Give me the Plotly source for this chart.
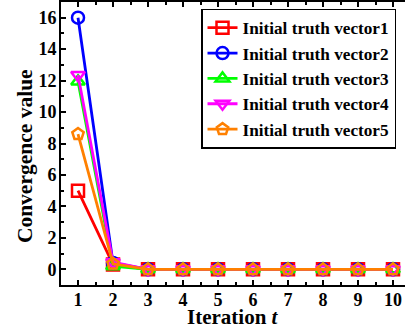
import plotly.graph_objects as go

iterations = [1, 2, 3, 4, 5, 6, 7, 8, 9, 10]
vector1 = [5.0, 0.30, 0, 0, 0, 0, 0, 0, 0, 0]
vector2 = [16.0, 0.40, 0, 0, 0, 0, 0, 0, 0, 0]
vector3 = [11.95, 0.20, 0, 0, 0, 0, 0, 0, 0, 0]
vector4 = [12.35, 0.45, 0, 0, 0, 0, 0, 0, 0, 0]
vector5 = [8.6, 0.35, 0, 0, 0, 0, 0, 0, 0, 0]

names = ["Initial truth vector1", "Initial truth vector2", "Initial truth vector3",
         "Initial truth vector4", "Initial truth vector5"]
series = [vector1, vector2, vector3, vector4, vector5]
colors = ["#FF0000", "#0000FF", "#00FF00", "#FF00FF", "#FF8000"]
symbols = ["square-open", "circle-open", "triangle-up-open", "triangle-down-open", "pentagon-open"]

FONT = "Liberation Serif, Times New Roman, serif"

fig = go.Figure()
for name, vals, col, sym in zip(names, series, colors, symbols):
    fig.add_trace(go.Scatter(
        x=iterations, y=vals, name=name, mode="lines+markers",
        line=dict(color=col, width=2.8),
        marker=dict(symbol=sym, size=12, color=col, line=dict(width=2.5, color=col)),
    ))

fig.update_layout(
    width=405, height=332,
    margin=dict(l=61, r=0, t=0, b=47),
    paper_bgcolor="white", plot_bgcolor="white",
    font=dict(family=FONT, color="black", size=17, weight="bold"),
    showlegend=True,
    legend=dict(
        x=0.407, y=0.977, xanchor="left", yanchor="top",
        bgcolor="white", bordercolor="black", borderwidth=1.5,
        font=dict(family=FONT, size=17.2, color="black", weight="bold"),
        tracegroupgap=0,
    ),
    annotations=[
        dict(
            text="Convergence value", textangle=-90,
            xref="paper", yref="paper", x=-0.105, y=0.455,
            xanchor="center", yanchor="middle", showarrow=False,
            font=dict(family=FONT, size=21.5, color="black", weight="bold"),
        ),
        dict(
            text="Iteration <i>t</i>",
            xref="paper", yref="paper", x=0.5, y=-0.112,
            xanchor="center", yanchor="middle", showarrow=False,
            font=dict(family=FONT, size=21, color="black", weight="bold"),
        ),
    ],
)

fig.update_xaxes(
    range=[0.514, 10.343],
    tickmode="array", tickvals=iterations, ticktext=[str(v) for v in iterations],
    ticks="inside", ticklen=5, tickwidth=1.5, tickcolor="black",
    showline=True, linecolor="black", linewidth=2, mirror="ticks",
    showgrid=False, zeroline=False,
    minor=dict(ticks="inside", ticklen=3, tickwidth=1.5, tick0=0.5, dtick=1, tickcolor="black"),
    tickfont=dict(family=FONT, size=18, color="black", weight="bold"),
    ticklabelstandoff=-3,
)

fig.update_yaxes(
    range=[-1, 17],
    tickmode="array", tickvals=[0, 2, 4, 6, 8, 10, 12, 14, 16],
    ticks="inside", ticklen=5, tickwidth=1.5, tickcolor="black",
    showline=True, linecolor="black", linewidth=2, mirror=False,
    showgrid=False, zeroline=False,
    minor=dict(ticks="inside", ticklen=3, tickwidth=1.5, tick0=1, dtick=2, tickcolor="black"),
    tickfont=dict(family=FONT, size=18, color="black", weight="bold"),
    ticklabelstandoff=-1,
)

fig.write_html("out.html")
